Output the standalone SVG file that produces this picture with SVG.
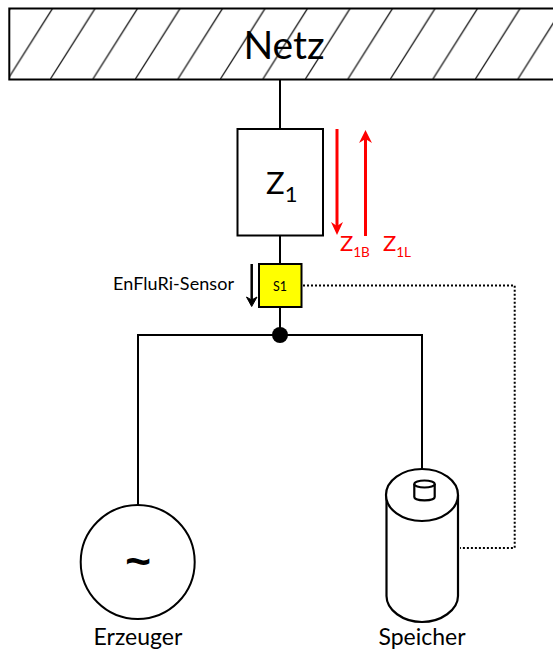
<svg xmlns="http://www.w3.org/2000/svg" width="553" height="651" viewBox="0 0 553 651">
<style>
text{font-family:Lato,"Liberation Sans",sans-serif;fill:#000}
.w{stroke:#000;stroke-width:2;fill:none}
.h{stroke:#000;stroke-width:1.2;fill:none}
.r{stroke:#f00;stroke-width:3;fill:none}
.dot{stroke:#000;stroke-width:2;stroke-dasharray:2 2;fill:none}
.red{fill:#f00}
.s{fill:#fff;stroke:#000;stroke-width:2.2}
</style>
<defs><pattern id="hatch" patternUnits="userSpaceOnUse" x="7.600" y="8.500" width="42.500" height="71"><path d="M0 71L45 0M-42.500 71L2.500 0" class="h"/></pattern></defs>
<rect width="553" height="651" fill="#fff"/>
<g id="connectors">
<path class="w" d="M280 79V129M280 236V264M280 307V335M138 505V335H422V469"/>
<path class="dot" d="M303 285.500H514.700V548H460"/>
<path class="w" d="M251.700 264V300" style="stroke-width:2.500"/>
<path d="M246.500 297L251.700 306.500L257 297L251.700 300Z" fill="#000" stroke="#000"/>
<path class="r" d="M337 129V226"/>
<path d="M331 222L337 235L343 222L337 226Z" fill="#f00"/>
<path class="r" d="M365.500 236V139"/>
<path d="M359 143L365.500 130L372 143L365.500 139Z" fill="#f00"/>
</g>
<g id="netz">
<rect x="9.300" y="8.500" width="560" height="71" fill="url(#hatch)" stroke="#000" stroke-width="2"/>
<text x="284" y="59" font-size="39" text-anchor="middle">Netz</text>
</g>
<g id="z1">
<rect x="237.500" y="129" width="85.500" height="106.500" fill="#fff" stroke="#000" stroke-width="2"/>
<text x="266" y="194" font-size="31">Z<tspan font-size="22" dy="8">1</tspan></text>
</g>
<g id="z1b"><text x="340" y="251" font-size="22" style="fill:#f00">Z<tspan font-size="13.500" dy="5.500">1B</tspan></text></g>
<g id="z1l"><text x="383" y="251" font-size="22" style="fill:#f00">Z<tspan font-size="13.500" dy="5.500">1L</tspan></text></g>
<g id="sensor">
<rect x="259" y="264" width="42.500" height="43" fill="#ff0" stroke="#000" stroke-width="2"/>
<text x="280" y="291" font-size="12.500" text-anchor="middle">S1</text>
<text x="113" y="290" font-size="18" textLength="121">EnFluRi-Sensor</text>
</g>
<g id="junction"><circle cx="280" cy="335" r="8" fill="#000"/></g>
<g id="erzeuger">
<circle cx="137.700" cy="562" r="57" fill="#fff" stroke="#000" stroke-width="2"/>
<text x="138" y="576" font-size="44" font-weight="700" text-anchor="middle" style="font-family:'Liberation Sans',sans-serif">~</text>
<text x="138" y="645" font-size="23" text-anchor="middle">Erzeuger</text>
</g>
<g id="speicher">
<path class="s" d="M386.500 495V596C386.500 610 403 622 422 622S458 610 458 596V495"/>
<ellipse class="s" cx="422" cy="495" rx="36" ry="26"/>
<path class="s" d="M414.300 484V497C414.300 501.500 434.700 501.500 434.700 497V484"/>
<ellipse class="s" cx="424.500" cy="484" rx="10.200" ry="3.500"/>
<text x="422" y="645" font-size="23" text-anchor="middle">Speicher</text>
</g>
</svg>
